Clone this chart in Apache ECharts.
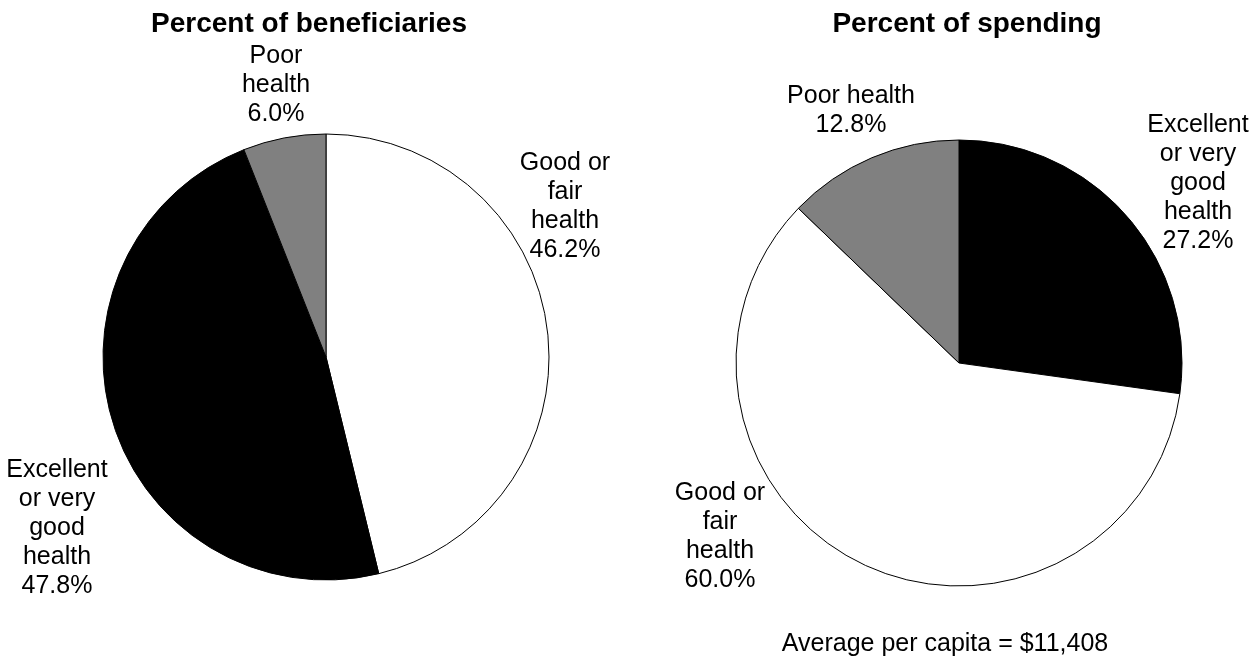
<!DOCTYPE html>
<html>
<head>
<meta charset="utf-8">
<script src="https://cdn.jsdelivr.net/npm/echarts@6/dist/echarts.min.js"></script>
<style>
  html, body { margin: 0; padding: 0; background: #fff; }
  #chart { width: 1260px; height: 661px; }
</style>
</head>
<body>
<div id="chart"></div>
<script>
// Shares of beneficiaries and of spending by self-reported health status
const beneficiaryNames = ['Good or\nfair\nhealth', 'Excellent\nor very\ngood\nhealth', 'Poor\nhealth'];
const beneficiaryValues = [46.2, 47.8, 6.0];
const beneficiaryColors = ['#ffffff', '#000000', '#808080'];

const spendingNames = ['Excellent\nor very\ngood\nhealth', 'Good or\nfair\nhealth', 'Poor health'];
const spendingValues = [27.2, 60.0, 12.8];
const spendingColors = ['#000000', '#ffffff', '#808080'];

const titles = ['Percent of beneficiaries', 'Percent of spending'];
const footnote = 'Average per capita = $11,408';

// Label anchor points (pixel centres of each label block)
const beneficiaryLabelPos = [[565, 207], [57, 528], [276, 85]];
const spendingLabelPos = [[1198, 183], [720, 537], [851, 111]];

const FONT = '"Liberation Sans", Arial, Helvetica, sans-serif';

function buildData(names, values, colors) {
  return names.map((n, i) => ({
    name: n,
    value: values[i],
    itemStyle: { color: colors[i] }
  }));
}

function pieSeries(names, values, colors, center, labelPos) {
  return {
    type: 'pie',
    center: center,
    radius: 223,
    startAngle: 90,
    clockwise: true,
    silent: true,
    animation: false,
    avoidLabelOverlap: false,
    itemStyle: { borderColor: '#000', borderWidth: 1 },
    label: {
      show: true,
      position: 'outside',
      formatter: p => p.name + '\n' + p.value.toFixed(1) + '%',
      color: '#000',
      fontFamily: FONT,
      fontSize: 25,
      lineHeight: 29,
      align: 'center',
      overflow: 'none'
    },
    labelLine: { show: false },
    labelLayout: function (params) {
      const p = labelPos[params.dataIndex];
      return { x: p[0], y: p[1], align: 'center', verticalAlign: 'middle' };
    },
    emphasis: { disabled: true },
    data: buildData(names, values, colors)
  };
}

const titleStyle = { fontFamily: FONT, fontSize: 28, fontWeight: 'bold', color: '#000' };

const chart = echarts.init(document.getElementById('chart'), null, { renderer: 'canvas' });
chart.setOption({
  backgroundColor: '#fff',
  animation: false,
  title: [
    { text: titles[0], left: 304, top: 5, textAlign: 'center', textStyle: titleStyle },
    { text: titles[1], left: 962, top: 5, textAlign: 'center', textStyle: titleStyle }
  ],
  graphic: [
    { type: 'text', x: 945, y: 644,
      style: { text: footnote, fontFamily: FONT, fontSize: 25, fill: '#000',
               textAlign: 'center', textVerticalAlign: 'middle' } }
  ],
  series: [
    pieSeries(beneficiaryNames, beneficiaryValues, beneficiaryColors, [326, 357], beneficiaryLabelPos),
    pieSeries(spendingNames, spendingValues, spendingColors, [959, 363], spendingLabelPos)
  ]
});
</script>
</body>
</html>
